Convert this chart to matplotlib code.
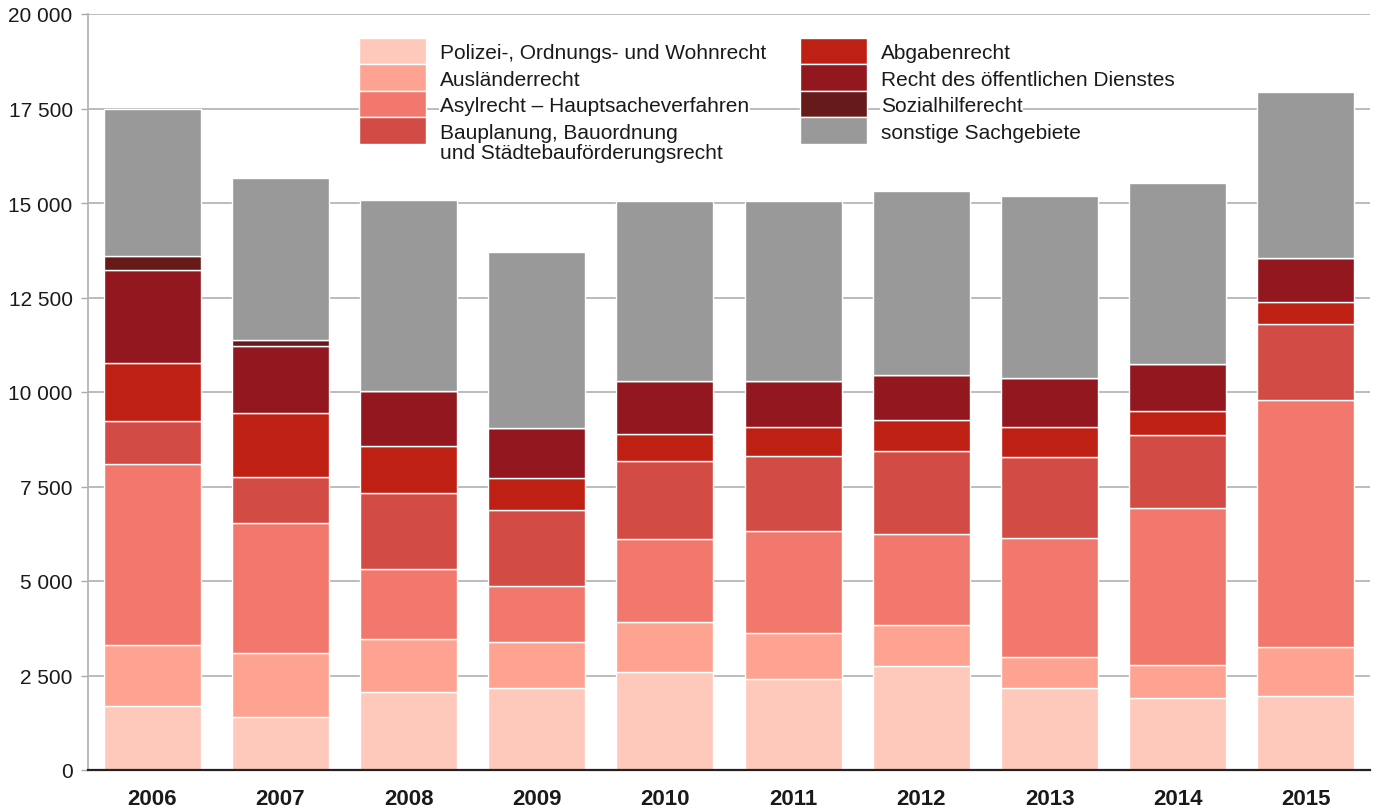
import numpy as np
import matplotlib
matplotlib.use("Agg")
import matplotlib.pyplot as plt
from matplotlib.patches import Rectangle
from matplotlib.ticker import FuncFormatter

plt.rcParams['font.family'] = ['Liberation Sans', 'DejaVu Sans']

years = ['2006', '2007', '2008', '2009', '2010', '2011', '2012', '2013', '2014', '2015']

categories = [
    'Polizei-, Ordnungs- und Wohnrecht',
    'Ausländerrecht',
    'Asylrecht – Hauptsacheverfahren',
    'Bauplanung, Bauordnung\nund Städtebauförderungsrecht',
    'Abgabenrecht',
    'Recht des öffentlichen Dienstes',
    'Sozialhilferecht',
    'sonstige Sachgebiete',
]

polizei = [1693, 1402, 2072, 2169, 2601, 2407, 2760, 2169, 1905, 1949]
auslaender = [1617, 1685, 1385, 1217, 1323, 1217, 1085, 829, 881, 1314]
asyl = [4793, 3439, 1869, 1482, 2187, 2690, 2398, 3148, 4154, 6534]
bau = [1131, 1225, 2002, 2019, 2064, 1993, 2204, 2143, 1922, 1993]
abgaben = [1535, 1693, 1243, 838, 723, 758, 804, 776, 644, 583]
dienst = [2461, 1781, 1464, 1314, 1384, 1235, 1207, 1297, 1235, 1172]
sozialhilfe = [370, 151, 0, 0, 0, 0, 0, 0, 0, 0]
sonstige = [3880, 4285, 5044, 4673, 4780, 4753, 4868, 4823, 4796, 4383]

series = [polizei, auslaender, asyl, bau, abgaben, dienst, sozialhilfe, sonstige]
colors = ['#FEC8BA', '#FEA391', '#F2776C', '#D24B44', '#BF2014', '#92171E', '#661A1A', '#999999']

fig = plt.figure(figsize=(13.78, 8.12), dpi=100)
ax = fig.add_axes([88 / 1378, 41 / 812, 1282 / 1378, 756 / 812])

x = np.arange(len(years))
bottom = np.zeros(len(years))
for vals, col, lab in zip(series, colors, categories):
    ax.bar(x, vals, width=0.757, bottom=bottom, color=col, edgecolor='white',
           linewidth=1.0, label=lab)
    bottom += np.array(vals)

ax.set_xlim(-0.5, len(years) - 0.5)
ax.set_ylim(0, 20000)
ax.set_yticks(np.arange(0, 20001, 2500))
ax.yaxis.set_major_formatter(FuncFormatter(lambda v, p: f"{int(v):,}".replace(",", " ")))
ax.set_xticks(x)
ax.set_xticklabels(years, fontweight='bold', fontsize=16, color='#1a1a1a')
ax.tick_params(axis='x', length=0, pad=13)
ax.tick_params(axis='y', length=5, width=1, color='#aaaaaa', pad=6, labelsize=15,
               labelcolor='#1a1a1a')

ax.set_axisbelow(True)
ax.grid(axis='y', color='#aaaaaa', linewidth=1.1)
ax.spines['top'].set_visible(False)
ax.spines['right'].set_visible(False)
ax.spines['left'].set_color('#b5b5b5')
ax.spines['left'].set_linewidth(1.3)
ax.spines['bottom'].set_color('#222222')
ax.spines['bottom'].set_linewidth(1.6)
ax.spines['bottom'].set_zorder(5)

# legend drawn by hand: two columns of four, patch aligned with the first text line
W, H = 1378, 812
col_x = [359, 800]
row_h = 26.6
top = 38.5
line_h = 19.5
for i, (lab, col) in enumerate(zip(categories, colors)):
    c, r = divmod(i, 4)
    x0 = col_x[c]
    y0 = top + r * row_h
    fig.add_artist(Rectangle((x0 / W, 1 - (y0 + row_h) / H), 67 / W, row_h / H,
                             transform=fig.transFigure, facecolor=col,
                             edgecolor='white', linewidth=1.0, zorder=6))
    lines = lab.split('\n')
    # add lower lines first so their white box does not cover descenders above
    for j in reversed(range(len(lines))):
        fig.text((x0 + 81) / W, 1 - (y0 + row_h / 2 + 7.5 + j * line_h) / H, lines[j],
                 fontsize=15, color='#1a1a1a', va='baseline', ha='left', zorder=6,
                 bbox=dict(facecolor='white', edgecolor='none', pad=0.5))

fig.savefig('out.png', dpi=100)
